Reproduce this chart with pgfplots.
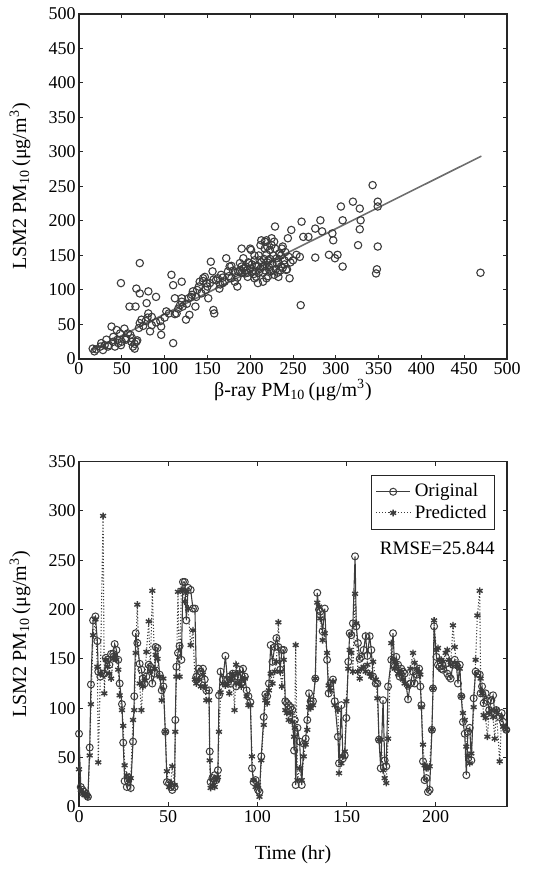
\documentclass[border=0pt]{standalone}
\usepackage{fontspec}
\setmainfont{Liberation Serif}
\usepackage{pgfplots}
\pgfplotsset{compat=1.18}
\definecolor{mk}{HTML}{3C3C3C}
\definecolor{fitc}{HTML}{6E6E6E}
\begin{document}
\begin{tikzpicture}
\path[use as bounding box] (0,0) rectangle (269.5pt,435pt);
\pgfplotsset{
  every axis/.append style={
    scale only axis, width=214pt, height=172.5pt,
    axis line style={line width=0.6pt, black!85},
    tick align=inside, tick pos=both, major tick length=2.2pt,
    every tick/.style={line width=0.5pt, black!85},
    /pgf/number format/assume math mode=true,
    tick label style={font=\fontsize{9}{10}\selectfont},
    xticklabel style={inner sep=1pt, yshift=-0.5pt},
    yticklabel style={inner sep=1.5pt},
    label style={font=\fontsize{10}{12}\selectfont},
  }
}
% ---------------- top: scatter ----------------
\begin{axis}[at={(39.5pt,255.5pt)}, anchor=south west,
  xmin=0, xmax=500, ymin=0, ymax=500,
  xtick={0,50,...,500}, ytick={0,50,...,500},
  xlabel={β-ray PM\textsubscript{10}\,(μg/m\textsuperscript{3})},
  ylabel={LSM2 PM\textsubscript{10}\,(μg/m\textsuperscript{3})},
  xlabel style={at={(axis description cs:0.5,-0.09)}, anchor=center},
  ylabel style={at={(axis description cs:-0.138,0.5)}, anchor=center},
]
\addplot[only marks, mark=o, mark size=1.85pt, mk, mark options={line width=0.55pt}] coordinates {
(16,15)(18,11)(26,23)(28,13)(32,28)(34,18)(38,47)(40,32)(42,18)(44,42)(46,23)(48,37)(49,20)
(53,44)(55,28)(57,37)(59,76)(61,25)(63,18)(65,15)(67,25)(66,76)(67,102)(71,139)(71,95)(73,57)
(71,52)(79,81)(81,98)(81,66)(83,40)(85,49)(85,61)(90,90)(96,47)(96,35)(49,110)(102,69)(108,122)
(110,107)(112,88)(110,23)(114,66)(118,78)(120,88)(120,112)(121,76)(125,57)(129,64)(131,90)(133,98)
(136,76)(137,90)(141,112)(143,95)(145,117)(147,119)(151,88)(149,110)(153,110)(154,141)(156,127)
(157,71)(158,66)(160,114)(164,102)(166,122)(168,110)(172,146)(174,127)(176,134)(178,117)(182,112)
(185,105)(186,127)(188,139)(190,160)(190,134)(192,146)(194,124)(195,134)(197,119)(199,139)(201,158)
(203,127)(205,143)(207,119)(209,110)(211,143)(213,172)(215,134)(217,160)(219,117)(219,172)(221,143)
(223,158)(225,175)(227,129)(229,192)(229,160)(231,139)(233,119)(234,153)(236,134)(238,163)(240,143)
(242,129)(244,175)(246,117)(248,187)(250,143)(254,151)(258,148)(260,199)(259,78)(262,177)(268,177)
(276,147)(276,189)(282,201)(284,185)(292,151)(296,182)(297,172)(299,146)(302,151)(306,221)(308,201)
(308,134)(320,228)(326,165)(328,218)(329,201)(328,188)(343,252)(349,228)(349,221)(349,163)(348,130)
(347,124)(469,125)
(188,128)(190,125)(192,131)(195,128)(197,125)(198,140)(200,131)(202,137)(204,123)(205,150)(206,128)
(208,135)(210,125)(210,150)(212,131)(213,140)(215,125)(216,145)(217,135)(218,128)(219,152)(220,140)
(221,120)(222,133)(223,145)(224,127)(225,165)(226,138)(227,150)(228,122)(230,130)(231,146)(232,125)
(233,140)(235,128)(236,150)(237,160)(238,132)(240,137)(241,155)(243,130)(245,148)(247,140)(200,160)
(205,117)(212,165)(217,170)(220,163)(228,170)(215,112)(180,128)(178,135)(183,125)(185,118)(175,120)
(170,112)(165,108)(168,118)(162,117)(157,115)(150,105)(148,100)(145,113)(140,105)(138,100)(132,93)
(128,88)(126,80)(120,83)(116,73)(112,65)(105,66)(100,60)(95,55)(90,53)(80,60)(78,55)(75,48)(60,35)
(55,30)(50,25)(45,28)(40,25)(35,20)(30,20)(25,18)(20,14)(62,30)(65,22)(68,27)(70,45)
};
\addplot[fitc, line width=0.8pt] coordinates {(16,13) (470,294)};
\end{axis}
% ---------------- bottom: time series ----------------
\begin{axis}[at={(39.5pt,31.65pt)}, anchor=south west,
  xmin=0, xmax=240, ymin=0, ymax=350,
  xtick={0,50,...,200}, ytick={0,50,...,350},
  xlabel={Time (hr)},
  ylabel={LSM2 PM\textsubscript{10}\,(μg/m\textsuperscript{3})},
  xlabel style={at={(axis description cs:0.5,-0.14)}, anchor=center},
  ylabel style={at={(axis description cs:-0.138,0.5)}, anchor=center},
  legend style={at={(0.972,0.961)}, anchor=north east, draw=black!85, line width=0.5pt,
     font=\fontsize{9.5}{11}\selectfont, inner sep=2pt, row sep=-1.5pt, cells={anchor=west}},
  legend cell align=left,
]
\pgfplotstableread{
t o p
0 74 38
1 20 17
2 17 13
3 15 12
4 13 12
5 10 10
6.0 60 52
6.7 124 104
7.9 189 174
9.2 193 190
10.3 168 142
10.8 137 45
12 132 135
13.5 135 295
14.2 135 115
15.0 151 149
16 149 142
17 144 135
18 155 130
19.2 155 150
20.0 165 154
21 159 149
22 149 139
22.8 125 113
24.1 104 98
24.8 65 82
25.6 26 42
26.8 20 32
28 29 27
29.0 19 29
30.3 66 88
31.0 112 98
31.8 176 156
32.7 166 205
34 145 125
35.0 139 98
35.8 130 122
36.8 125 128
37.8 132 157
39.1 144 188
40 142 137
41.1 125 219
42.5 135 140
43.0 162 154
44 161 150
45.2 134 132
46.4 118 108
47.3 122 130
48.4 76 76
49.3 25 36
50.5 24 20
51.5 20 24
52.3 17 41
53.6 20 22
54.0 88 76
54.6 142 132
55.5 156 218
56.4 163 132
57.4 149 220
58.3 228 220
59.3 228 208
60.2 189 218
61.2 222 201
62.6 220 164
63.9 201 179
65.0 201 129
65.8 132 125
67.1 140 129
68.3 137 122
69.5 140 134
70.5 129 122
71.4 118 108
72.9 118 108
73.3 56 47
73.8 25 19
74.8 29 22
76.1 32 20
77.0 27 27
77.9 37 30
78.5 113 76
79.4 137 116
80.7 129 125
82.1 153 123
83.2 129 125
84.3 132 115
85.3 125 130
86.2 135 135
87.2 130 98
88.1 122 144
89.1 132 135
90.0 139 125
91.0 125 122
92.0 140 129
93.0 132 130
94.0 118 112
95.0 112 103
96.1 106 103
97.0 39 51
97.9 25 27
99.0 27 20
100.4 17 22
101.2 15 10
102.2 51 47
103.6 91 83
104.5 114 108
105.5 112 105
106.5 125 118
107.5 164 135
108.5 147 125
109.7 162 137
110.7 171 147
111.8 162 187
112.8 139 137
113.8 159 122
114.8 159 149
115.7 107 98
116.6 105 95
117.6 103 88
118.7 101 95
119.6 98 86
120.6 57 71
121.0 88 80
121.5 22 164
122.5 80 27
123.7 66 39
124.9 22 27
126 64 51
127.1 69 63
128 88 78
129.0 115 101
129.9 107 100
131.2 107 103
132.5 130 130
133.6 217 207
134.6 200 203
135.3 198 191
136.6 178 169
137.8 201 176
139.1 149 156
140.0 115 123
141.0 125 118
142.4 129 127
143.4 107 103
145.2 71 98
145.8 44 34
147.1 103 44
148.0 49 51
149.0 52 56
149.9 90 107
151.0 147 140
151.8 176 159
152.7 174 156
153.6 186 137
154.8 254 216
155.5 183 186
156.4 166 137
157.4 150 130
158.3 152 140
159.6 159 142
160.7 173 137
161.7 153 144
163.0 173 135
163.9 159 132
164.9 132 147
166.4 125 129
167.3 125 110
168.2 68 68
169.2 39 68
170.5 108 37
171.4 47 29
172.3 41 24
173.3 122 69
175.1 149 166
176.1 176 149
177.0 142 140
177.9 152 144
178.9 144 135
179.8 132 137
180.7 140 134
181.7 137 129
182.6 135 125
184.5 109 122
185.8 125 140
187.3 137 156
188.2 125 146
189.5 134 140
190.7 140 137
191.4 122 134
192.0 103 101
192.9 46 63
193.8 27 42
194.8 29 39
195.7 15 39
196.6 17 41
197.9 78 78
198.5 120 120
199.1 183 189
200.4 152 159
201.3 144 161
202.2 142 149
203.2 140 149
204.1 139 147
205.6 145 156
206.5 135 159
207.5 132 149
208.4 130 144
209.7 144 184
210.7 149 162
211.6 144 144
212.5 125 142
213.5 144 140
214.4 112 112
215.3 86 95
216.3 74 88
217.2 32 61
218.1 76 52
219.1 80 44
220.0 47 54
221.3 110 101
222.4 137 149
223.4 135 194
224.7 134 219
225.2 115 130
226.0 122 115
226.9 105 93
228.0 115 90
229.0 107 71
230.0 98 95
231.2 108 98
232.2 113 91
233.1 95 69
234.0 98 98
235.9 91 46
237.0 95 91
237.8 86 81
239.6 78 78
}\ts
\addplot[mk, line width=0.55pt, mark=o, mark size=1.75pt, mark options={solid, line width=0.5pt}] table[x=t, y=o] {\ts};
\addlegendentry{Original}
\addplot[mk, line width=0.55pt, densely dotted, mark=asterisk, mark size=1.7pt, mark options={solid, line width=0.7pt}] table[x=t, y=p] {\ts};
\addlegendentry{Predicted}
\node[anchor=east, inner sep=0pt, font=\fontsize{9.5}{11}\selectfont] at (axis cs:233.3,262) {RMSE=25.844};
\end{axis}
\end{tikzpicture}
\end{document}
